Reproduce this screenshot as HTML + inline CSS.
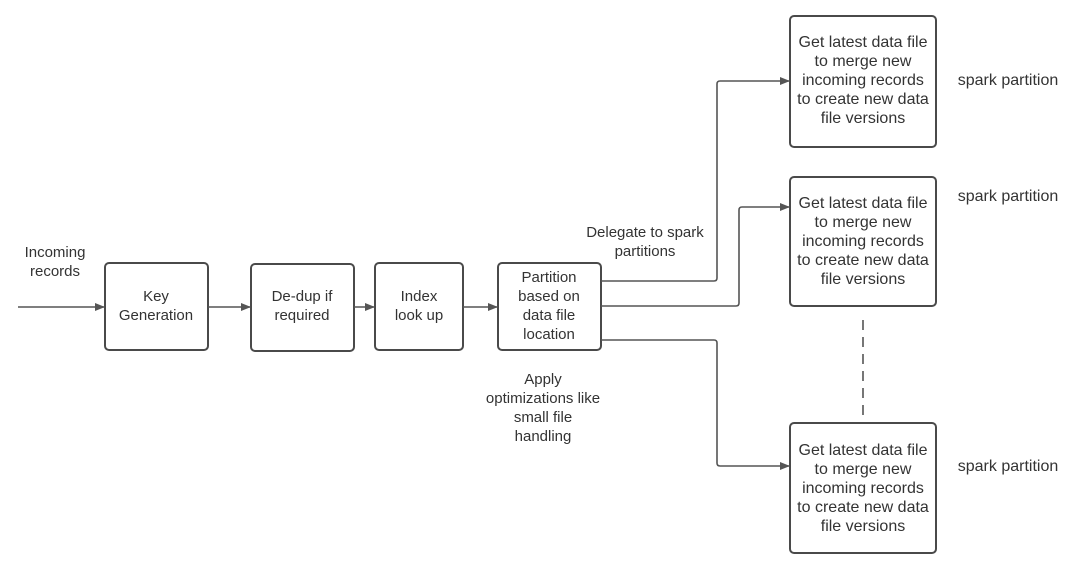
<!DOCTYPE html>
<html><head><style>
body{margin:0;background:#fff;}
svg text{font-family:"Liberation Sans",sans-serif;font-size:15px;fill:#333;text-anchor:middle;}
svg text.r{font-size:16px;}
</style></head><body>
<svg width="1080" height="581" viewBox="0 0 1080 581">
<defs><marker id="a" markerWidth="10" markerHeight="8" refX="9" refY="4" orient="auto" markerUnits="userSpaceOnUse"><path d="M0,0 L10,4 L0,8 Z" fill="#555"/></marker></defs>
<g fill="none" stroke="#4a4a4a" stroke-width="2">
<rect x="105" y="263" width="103" height="87" rx="4"/>
<rect x="251" y="264" width="103" height="87" rx="4"/>
<rect x="375" y="263" width="88" height="87" rx="4"/>
<rect x="498" y="263" width="103" height="87" rx="4"/>
<rect x="790" y="16" width="146" height="131" rx="4"/>
<rect x="790" y="177" width="146" height="129" rx="4"/>
<rect x="790" y="423" width="146" height="130" rx="4"/>
</g>
<g fill="none" stroke="#555" stroke-width="1.6">
<path d="M18 307 H104" marker-end="url(#a)"/>
<path d="M208 307 H250" marker-end="url(#a)"/>
<path d="M354 307 H374" marker-end="url(#a)"/>
<path d="M463 307 H497" marker-end="url(#a)"/>
<path d="M601 281 H714 Q717 281 717 278 V84 Q717 81 720 81 H789" marker-end="url(#a)"/>
<path d="M601 306 H736 Q739 306 739 303 V210 Q739 207 742 207 H789" marker-end="url(#a)"/>
<path d="M601 340 H714 Q717 340 717 343 V463 Q717 466 720 466 H789" marker-end="url(#a)"/>
<path d="M863 320 V422" stroke-dasharray="10,7"/>
</g>
<text x="55" y="257">Incoming</text><text x="55" y="276">records</text>
<text x="156" y="301">Key</text><text x="156" y="320">Generation</text>
<text x="302" y="301">De-dup if</text><text x="302" y="320">required</text>
<text x="419" y="301">Index</text><text x="419" y="320">look up</text>
<text x="549" y="282">Partition</text><text x="549" y="301">based on</text><text x="549" y="320">data file</text><text x="549" y="339">location</text>
<text x="645" y="237">Delegate to spark</text><text x="645" y="256">partitions</text>
<text x="543" y="384">Apply</text><text x="543" y="403">optimizations like</text><text x="543" y="422">small file</text><text x="543" y="441">handling</text>
<g>
<text class="r" x="863" y="47">Get latest data file</text><text class="r" x="863" y="66">to merge new</text><text class="r" x="863" y="85">incoming records</text><text class="r" x="863" y="104">to create new data</text><text class="r" x="863" y="123">file versions</text>
<text class="r" x="863" y="208">Get latest data file</text><text class="r" x="863" y="227">to merge new</text><text class="r" x="863" y="246">incoming records</text><text class="r" x="863" y="265">to create new data</text><text class="r" x="863" y="284">file versions</text>
<text class="r" x="863" y="455">Get latest data file</text><text class="r" x="863" y="474">to merge new</text><text class="r" x="863" y="493">incoming records</text><text class="r" x="863" y="512">to create new data</text><text class="r" x="863" y="531">file versions</text>
</g>
<text class="r" x="1008" y="85">spark partition</text>
<text class="r" x="1008" y="201">spark partition</text>
<text class="r" x="1008" y="471">spark partition</text>
</svg>
</body></html>
